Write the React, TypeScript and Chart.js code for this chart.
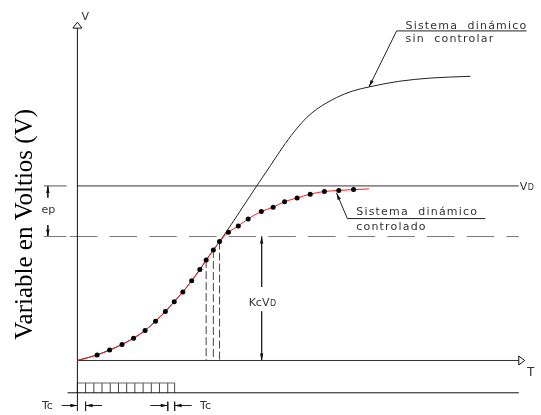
import React, { useEffect, useRef } from "react";
import { Chart, registerables } from "chart.js";

Chart.register(...registerables);

// ---- DATA (time in diagram units, voltage with VD = 10) ----
const ctrlTime = [0, 2.0, 3.27, 4.53, 5.7, 6.87, 7.93, 8.93, 9.83, 10.7, 11.6, 12.43, 13.07, 13.8, 14.43, 15.33, 16.33, 17.33, 18.67, 19.87, 21.03, 22.3, 23.63, 25.07, 26.53, 28.03, 29.6];
const ctrlVolt = [0, 0.32, 0.6, 0.92, 1.28, 1.72, 2.25, 2.81, 3.37, 3.93, 4.57, 5.21, 5.75, 6.33, 6.81, 7.34, 7.71, 8.11, 8.54, 8.78, 9.1, 9.31, 9.53, 9.68, 9.74, 9.79, 9.83];
const freeTime = [0, 2.0, 3.27, 4.53, 5.7, 6.87, 7.93, 8.93, 9.83, 10.7, 11.6, 12.43, 13.07, 13.8, 14.43, 16.2, 18.2, 19.6, 21.1, 22.3, 23.3, 24.3, 26.3, 27.9, 29.6, 32.6, 35.9, 39.9];
const freeVolt = [0, 0.32, 0.6, 0.92, 1.28, 1.72, 2.25, 2.81, 3.37, 3.93, 4.57, 5.21, 5.75, 6.33, 6.81, 8.29, 10.0, 11.17, 12.43, 13.31, 13.93, 14.4, 15.06, 15.43, 15.67, 15.99, 16.18, 16.28];
const pulseTicks = [0, 0.83, 1.67, 2.5, 3.33, 4.17, 5.0, 5.83, 6.67, 7.5, 8.33, 9.17, 9.87];
const refLevel = 10; // VD
const kcLevel = 7.1; // Kc * VD
const sampleDashIdx = [12, 13, 14];

// ---- layout (scale extents) ----
const X_MIN = -7.45;
const X_MAX = 46.65;
const Y_MIN = -2.8933;
const Y_MAX = 20.4213;
const T_END = 44.8;
const PULSE_BASE = -1.85;
const PULSE_TOP = -1.29;
const DIM_ROW = -2.58;

type P = { x: number; y: number };
const pt = (x: number, y: number): P => ({ x, y });

function seg(pts: P[], color: string, dash: number[] = []) {
  return {
    type: "line" as const,
    data: pts,
    borderColor: color,
    borderWidth: 1,
    borderDash: dash,
    pointRadius: 0,
    fill: false,
    tension: 0,
  };
}

const arrows: { tip: P; from: P }[] = [
  { tip: pt(-3.0, refLevel), from: pt(-3.0, 9.33) },
  { tip: pt(-3.0, kcLevel), from: pt(-3.0, 7.75) },
  { tip: pt(18.7, kcLevel), from: pt(18.7, 4.21) },
  { tip: pt(18.7, 0), from: pt(18.7, 2.81) },
  { tip: pt(29.6, 15.67), from: pt(32.4, 18.88) },
  { tip: pt(26.3, 9.6), from: pt(27.4, 8.13) },
  { tip: pt(0, DIM_ROW), from: pt(-1.6, DIM_ROW) },
  { tip: pt(0.83, DIM_ROW), from: pt(2.5, DIM_ROW) },
  { tip: pt(9.17, DIM_ROW), from: pt(7.4, DIM_ROW) },
  { tip: pt(9.87, DIM_ROW), from: pt(11.6, DIM_ROW) },
];

const diagramPlugin = {
  id: "diagram",
  afterDatasetsDraw(chart: any) {
    const ctx: CanvasRenderingContext2D = chart.ctx;
    const xs = chart.scales.x;
    const ys = chart.scales.y;
    const px = (t: number) => xs.getPixelForValue(t);
    const py = (v: number) => ys.getPixelForValue(v);
    ctx.save();

    // filled arrowheads
    for (const a of arrows) {
      const tx = px(a.tip.x), ty = py(a.tip.y);
      const fx = px(a.from.x), fy = py(a.from.y);
      const d = Math.hypot(tx - fx, ty - fy) || 1;
      const ux = (tx - fx) / d, uy = (ty - fy) / d;
      const len = 7, half = 1.7;
      const bx = tx - ux * len, by = ty - uy * len;
      ctx.beginPath();
      ctx.moveTo(tx, ty);
      ctx.lineTo(bx - uy * half, by + ux * half);
      ctx.lineTo(bx + uy * half, by - ux * half);
      ctx.closePath();
      ctx.fillStyle = "#111";
      ctx.fill();
    }

    // open triangles at axis ends
    ctx.strokeStyle = "#111";
    ctx.lineWidth = 1;
    ctx.fillStyle = "#fff";
    const ax = px(0), ayTip = py(19.38), ayBase = py(19.04);
    ctx.beginPath();
    ctx.moveTo(ax, ayTip);
    ctx.lineTo(ax - 4.5, ayBase);
    ctx.lineTo(ax + 4.5, ayBase);
    ctx.closePath();
    ctx.fill();
    ctx.stroke();
    const bxTip = px(45.4), bxBase = px(T_END), by0 = py(0);
    ctx.beginPath();
    ctx.moveTo(bxTip, by0);
    ctx.lineTo(bxBase, by0 - 4.5);
    ctx.lineTo(bxBase, by0 + 4.5);
    ctx.closePath();
    ctx.fill();
    ctx.stroke();

    // texts
    const sans = '"DejaVu Sans", sans-serif';
    ctx.fillStyle = "#333";
    ctx.textBaseline = "middle";
    ctx.textAlign = "center";
    ctx.font = `11px ${sans}`;
    ctx.fillText("V", px(0.8), py(19.66));
    ctx.fillText("ep", px(-2.95), py(8.6));
    ctx.fillText("Tc", px(-3.05), py(-2.64));
    ctx.fillText("Tc", px(13.0), py(-2.64));
    ctx.font = `13px "Liberation Sans", sans-serif`;
    ctx.fillText("T", px(46.0), py(-0.67));

    // VD with small D
    const sub = (main: string, s: string, x: number, y: number, center: boolean) => {
      ctx.textBaseline = "alphabetic";
      ctx.textAlign = "left";
      ctx.font = `11px ${sans}`;
      const w1 = ctx.measureText(main).width;
      ctx.font = `8px ${sans}`;
      const w2 = ctx.measureText(s).width;
      const x0 = center ? x - (w1 + w2) / 2 : x;
      ctx.font = `11px ${sans}`;
      ctx.fillText(main, x0, y);
      ctx.font = `8px ${sans}`;
      ctx.fillText(s, x0 + w1 + 0.5, y);
    };
    sub("V", "D", px(44.9), py(9.78), false);
    sub("KcV", "D", px(18.75), py(3.1), true);

    // annotations
    ctx.textBaseline = "alphabetic";
    ctx.textAlign = "left";
    ctx.font = `11px ${sans}`;
    (ctx as any).letterSpacing = "1.2px";
    ctx.fillText("Sistema  dinámico", px(33.3), py(19.0));
    ctx.fillText("sin  controlar", px(33.3), py(18.26));
    ctx.fillText("Sistema  dinámico", px(28.3), py(8.31));
    ctx.fillText("controlado", px(28.3), py(7.47));
    (ctx as any).letterSpacing = "0px";

    // y title
    ctx.save();
    ctx.translate(px(-5.3), py(7.8));
    ctx.rotate(-Math.PI / 2);
    ctx.fillStyle = "#000";
    ctx.font = `25px "Liberation Serif", serif`;
    ctx.textAlign = "center";
    ctx.textBaseline = "middle";
    ctx.fillText("Variable en Voltios (V)", 0, 0);
    ctx.restore();

    ctx.restore();
  },
};

export default function App() {
  const ref = useRef<HTMLCanvasElement>(null);
  useEffect(() => {
    const canvas = ref.current!;
    const ctrlPts = ctrlTime.map((t, i) => pt(t, ctrlVolt[i]));
    const freePts = freeTime.map((t, i) => pt(t, freeVolt[i]));
    const dots = ctrlPts.slice(1, ctrlPts.length - 1);

    const datasets: any[] = [
      {
        type: "line",
        data: dots,
        showLine: false,
        pointRadius: 2.5,
        pointBackgroundColor: "#000",
        pointBorderWidth: 0,
      },
      {
        type: "line",
        data: ctrlPts,
        borderColor: "#ff1a1a",
        borderWidth: 1,
        pointRadius: 0,
        cubicInterpolationMode: "monotone",
        fill: false,
      },
      {
        type: "line",
        data: freePts,
        borderColor: "#222",
        borderWidth: 1,
        pointRadius: 0,
        cubicInterpolationMode: "monotone",
        fill: false,
      },
      // axes
      seg([pt(0, Y_MIN), pt(0, 19.04)], "#111"),
      seg([pt(0, 0), pt(T_END, 0)], "#333"),
      seg([pt(-1.0, PULSE_BASE), pt(T_END, PULSE_BASE)], "#111"),
      // reference levels
      seg([pt(0, refLevel), pt(T_END, refLevel)], "#333"),
      seg([pt(-3.4, refLevel), pt(-1.1, refLevel)], "#555"),
      seg([pt(-3.4, kcLevel), pt(-1.1, kcLevel)], "#777"),
      seg([pt(-0.77, kcLevel), pt(T_END, kcLevel)], "#777", [27.5, 12.2]),
      // pulse train
      seg([pt(pulseTicks[0], PULSE_TOP), pt(pulseTicks[pulseTicks.length - 1], PULSE_TOP)], "#666"),
      ...pulseTicks.map((t) => seg([pt(t, PULSE_BASE), pt(t, PULSE_TOP)], "#444")),
      // sample dashed lines
      ...sampleDashIdx.map((i) => seg([pt(ctrlTime[i], ctrlVolt[i]), pt(ctrlTime[i], 0)], "#444", [8, 3])),
      // ep dimension
      seg([pt(-3.0, refLevel), pt(-3.0, 9.33)], "#222"),
      seg([pt(-3.0, 7.75), pt(-3.0, kcLevel)], "#222"),
      // KcVD dimension
      seg([pt(18.7, kcLevel), pt(18.7, 4.21)], "#222"),
      seg([pt(18.7, 2.81), pt(18.7, 0)], "#222"),
      // leaders
      seg([pt(32.4, 18.88), pt(29.6, 15.67)], "#222"),
      seg([pt(32.4, 18.88), pt(45.6, 18.88)], "#222"),
      seg([pt(27.4, 8.13), pt(26.3, 9.6)], "#222"),
      seg([pt(27.4, 8.13), pt(41.4, 8.13)], "#222"),
      // Tc dimension arrows
      seg([pt(-1.6, DIM_ROW), pt(0, DIM_ROW)], "#222"),
      seg([pt(0.83, DIM_ROW), pt(2.5, DIM_ROW)], "#222"),
      seg([pt(7.4, DIM_ROW), pt(9.17, DIM_ROW)], "#222"),
      seg([pt(9.87, DIM_ROW), pt(11.6, DIM_ROW)], "#222"),
      seg([pt(0.83, -2.36), pt(0.83, Y_MIN)], "#222"),
      seg([pt(9.17, -2.36), pt(9.17, Y_MIN)], "#222"),
      seg([pt(9.87, -2.36), pt(9.87, Y_MIN)], "#222"),
    ];

    const chart = new Chart(canvas, {
      type: "line",
      data: { datasets },
      options: {
        responsive: false,
        animation: false,
        events: [],
        layout: { padding: 0 },
        plugins: { legend: { display: false }, tooltip: { enabled: false } },
        scales: {
          x: { type: "linear", display: false, min: X_MIN, max: X_MAX },
          y: { type: "linear", display: false, min: Y_MIN, max: Y_MAX },
        },
      },
      plugins: [diagramPlugin],
    } as any);
    return () => chart.destroy();
  }, []);

  return (
    <div style={{ position: "fixed", left: 0, top: 0, width: 541, height: 415, background: "#fff" }}>
      <canvas ref={ref} width={541} height={415} style={{ display: "block", width: 541, height: 415 }} />
    </div>
  );
}
